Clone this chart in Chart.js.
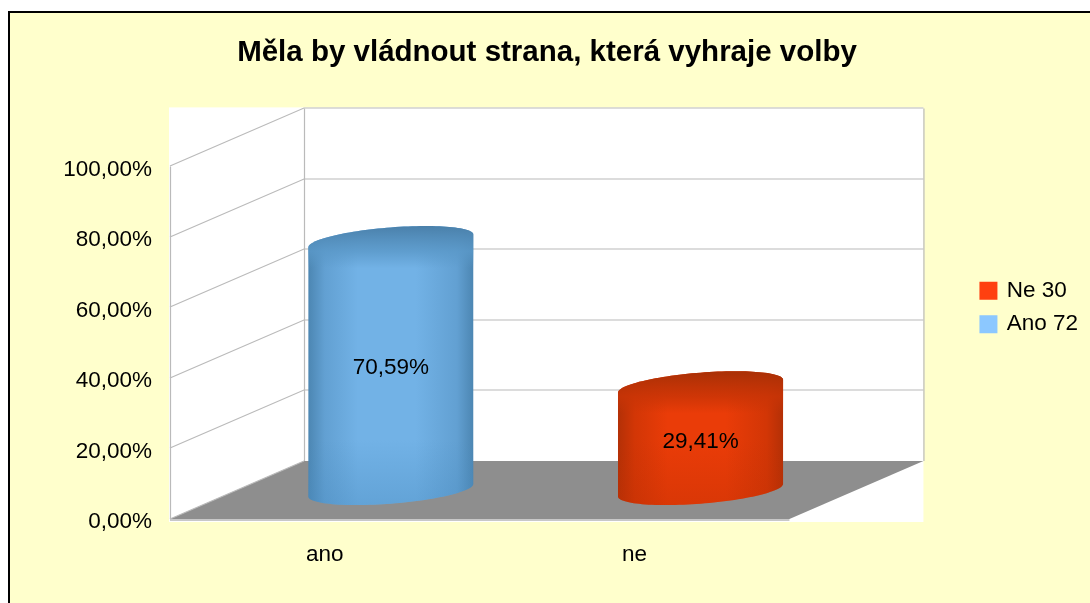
<!DOCTYPE html>
<html lang="cs">
<head>
<meta charset="utf-8">
<title>Měla by vládnout strana, která vyhraje volby</title>
<script src="https://cdn.jsdelivr.net/npm/chart.js@4/dist/chart.umd.min.js"></script>
<style>
html,body{margin:0;padding:0;background:#fff;width:1090px;height:603px;overflow:hidden}
#frame{position:absolute;left:8px;top:11px;width:1082px;height:592px;box-sizing:border-box;border-left:2px solid #000;border-top:2px solid #000;background:#FFFFCC}
canvas{position:absolute;left:0;top:0}
</style>
</head>
<body>
<div id="frame"></div>
<canvas id="c" width="1090" height="603"></canvas>
<script>
const titleText = 'Měla by vládnout strana, která vyhraje volby';
const categories = ['ano', 'ne'];
const seriesNames = ['Ano 72', 'Ne 30'];
const anoValues = [70.59, null];
const neValues = [null, 29.41];
const yTicks = [0, 20, 40, 60, 80, 100];

const FONT = '"Liberation Sans", Arial, sans-serif';
const pct = v => v.toFixed(2).replace('.', ',') + '%';
const depth = { x: 134, y: -58 };           // offset of the back wall from the front plane
const barShiftX = 66;                       // bars stand mid-way into the depth
const shades = [
  { edge: '#4c86b2', mix: '#62a0d2', mid: '#72b2e6', top: '#4a80aa', topLow: '#5a98c8', low: '#4a8cc0' },
  { edge: '#b33006', mix: '#d23606', mid: '#ea3c08', top: '#a83006', topLow: '#c83406', low: '#c03004' }
];

const cylinderPlugin = {
  id: 'cylinder3d',
  afterLayout(chart) {
    chart.legend.top += 12;
    chart.legend.left -= 2;
    chart.titleBlock.left += 4;
  },
  beforeDatasetsDraw(chart) {
    const { ctx, scales: { x, y } } = chart;
    const L = x.left, R = x.right, T = y.getPixelForValue(100), B = y.getPixelForValue(0);
    const grid = '#bababa';
    ctx.save();
    ctx.fillStyle = '#fff';
    ctx.fillRect(L - 1, T + depth.y - 1, R + depth.x - L + 1, B - T - depth.y + 4);
    // floor
    ctx.fillStyle = '#8e8e8e';
    ctx.beginPath();
    ctx.moveTo(L, B); ctx.lineTo(L + depth.x, B + depth.y);
    ctx.lineTo(R + depth.x, B + depth.y); ctx.lineTo(R, B);
    ctx.closePath(); ctx.fill();
    ctx.strokeStyle = '#c8c8c8'; ctx.lineWidth = 2;
    ctx.beginPath(); ctx.moveTo(L, B + 1); ctx.lineTo(R, B + 1); ctx.stroke();
    // grid on the side wall and the back wall
    ctx.strokeStyle = grid; ctx.lineWidth = 1.2;
    yTicks.forEach(v => {
      const py = Math.round(y.getPixelForValue(v));
      ctx.beginPath();
      ctx.moveTo(L, py); ctx.lineTo(L + depth.x, py + depth.y);
      if (v > 0) ctx.lineTo(R + depth.x, py + depth.y);
      ctx.stroke();
    });
    ctx.beginPath();
    ctx.moveTo(L + 0.5, T); ctx.lineTo(L + 0.5, B);
    ctx.moveTo(L + depth.x + 0.5, T + depth.y); ctx.lineTo(L + depth.x + 0.5, B + depth.y);
    ctx.moveTo(R + depth.x + 0.5, T + depth.y); ctx.lineTo(R + depth.x + 0.5, B + depth.y);
    ctx.stroke();
    ctx.restore();
  },
  beforeDatasetDraw(chart, args) {
    const { ctx } = chart;
    const s = shades[args.index];
    const values = chart.data.datasets[args.index].data;
    args.meta.data.forEach((el, j) => {
      if (values[j] == null) return;
      const a = el.width / 2;                  // half width
      const dx = depth.x * 0.26, dy = depth.y * 0.26;
      const cx = el.x + barShiftX;
      const yTop = el.y + depth.y / 2, yBase = el.base + depth.y / 2;
      const ext = Math.hypot(a, dx);
      const tMax = Math.atan2(dx, a);
      const pt = (t, yc) => [cx + Math.cos(t) * a + Math.sin(t) * dx, yc + Math.sin(t) * dy];
      const arc = (t0, t1, yc, first) => {
        for (let i = 0; i <= 60; i++) {
          const p = pt(t0 + (t1 - t0) * i / 60, yc);
          (first && i === 0) ? ctx.moveTo(p[0], p[1]) : ctx.lineTo(p[0], p[1]);
        }
      };
      ctx.save();
      ctx.beginPath();
      arc(tMax + Math.PI, tMax, yTop, true);     // over the back
      arc(tMax, tMax - Math.PI, yBase, false);   // under the front
      ctx.closePath();
      ctx.clip();
      const hg = ctx.createLinearGradient(cx - ext, 0, cx + ext, 0);
      hg.addColorStop(0, s.edge); hg.addColorStop(0.1, s.mix); hg.addColorStop(0.3, s.mid);
      hg.addColorStop(0.65, s.mid); hg.addColorStop(0.9, s.mix); hg.addColorStop(1, s.edge);
      ctx.fillStyle = hg;
      ctx.fillRect(cx - ext, yTop - 30, ext * 2, yBase - yTop + 60);
      // darker top cap, blurred into the body
      const vg = ctx.createLinearGradient(0, yTop + dy, 0, yTop - dy + 12);
      vg.addColorStop(0, s.top); vg.addColorStop(0.6, s.topLow + 'cc'); vg.addColorStop(1, s.topLow + '00');
      ctx.fillStyle = vg;
      ctx.fillRect(cx - ext, yTop + dy - 1, ext * 2, -2 * dy + 14);
      // slight darkening toward the foot
      const lg = ctx.createLinearGradient(0, yBase - 50, 0, yBase + 16);
      lg.addColorStop(0, s.low + '00'); lg.addColorStop(1, s.low + '66');
      ctx.fillStyle = lg;
      ctx.fillRect(cx - ext, yBase - 50, ext * 2, 70);
      ctx.restore();
    });
    return false;
  },
  afterDatasetsDraw(chart) {
    const { ctx } = chart;
    ctx.save();
    ctx.fillStyle = '#000';
    ctx.font = '22.5px ' + FONT;
    ctx.textAlign = 'center'; ctx.textBaseline = 'middle';
    chart.data.datasets.forEach((ds, i) => {
      chart.getDatasetMeta(i).data.forEach((el, j) => {
        const v = ds.data[j];
        if (v == null) return;
        const h = el.base - el.y;
        ctx.fillText(pct(v), el.x + barShiftX, el.base + depth.y / 2 - (0.51 * h - 5));
      });
    });
    ctx.restore();
  }
};

new Chart(document.getElementById('c'), {
  type: 'bar',
  data: {
    labels: categories,
    datasets: [
      { label: seriesNames[0], data: anoValues, backgroundColor: '#8CC8FF', borderColor: '#8CC8FF', borderWidth: 4 },
      { label: seriesNames[1], data: neValues, backgroundColor: '#FF4010', borderColor: '#FF4010', borderWidth: 4 }
    ]
  },
  plugins: [cylinderPlugin],
  options: {
    responsive: false,
    animation: false,
    layout: { padding: 0 },
    datasets: { bar: { categoryPercentage: 1, barPercentage: 0.484 } },
    plugins: {
      tooltip: { enabled: false },
      title: {
        display: true, text: titleText, color: '#000',
        font: { family: FONT, size: 29.5, weight: 'bold' },
        padding: { top: 35, bottom: 96 }
      },
      legend: {
        position: 'right', reverse: true,
        labels: {
          boxWidth: 14, boxHeight: 14, padding: 11, color: '#000',
          font: { family: FONT, size: 22.5 }
        }
      }
    },
    scales: {
      x: {
        stacked: true,
        grid: { display: false }, border: { display: false },
        ticks: { color: '#000', padding: 14, font: { family: FONT, size: 22.5 }, maxRotation: 0 },
        afterFit(s) { s.height = 84; }
      },
      y: {
        stacked: true, min: 0, max: 100,
        grid: { display: false }, border: { display: false },
        ticks: {
          color: '#000', padding: 10, font: { family: FONT, size: 22.5 },
          stepSize: 20, labelOffset: 3, callback: v => pct(v)
        },
        afterFit(s) { s.width = 170; }
      },
      spacer: {
        position: 'right', min: 0, max: 100,
        grid: { display: false }, border: { display: false },
        ticks: { display: false },
        afterFit(s) { s.width = 183; }
      }
    }
  }
});
</script>
</body>
</html>
